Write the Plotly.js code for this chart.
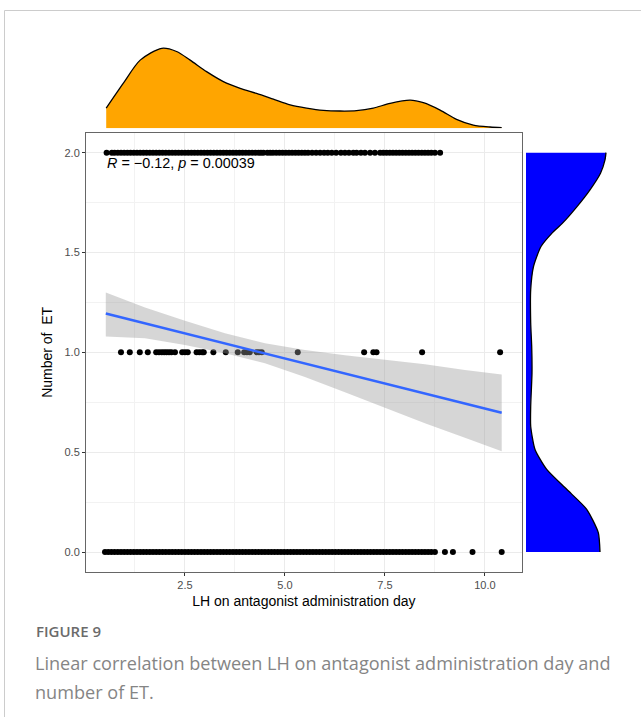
<!DOCTYPE html>
<html>
<head>
<meta charset="utf-8">
<script src="https://cdn.plot.ly/plotly-3.0.1.min.js"></script>
<style>html,body{margin:0;padding:0;background:#fff;}#chart{width:641px;height:717px;}</style>
</head>
<body>
<div id="chart"></div>
<script>
// LH on antagonist administration day for each Number of ET group
const lhET0 = [0.5,0.58,0.66,0.74,0.82,0.9,0.98,1.06,1.14,1.22,1.3,1.38,1.46,1.54,1.62,1.7,1.78,1.86,1.94,2.02,2.1,2.18,2.26,2.34,2.42,2.5,2.58,2.66,2.74,2.82,2.9,2.98,3.06,3.14,3.22,3.3,3.38,3.46,3.54,3.62,3.7,3.78,3.86,3.94,4.02,4.1,4.18,4.26,4.34,4.42,4.5,4.58,4.66,4.74,4.82,4.9,4.98,5.06,5.14,5.22,5.3,5.38,5.46,5.54,5.62,5.7,5.78,5.86,5.94,6.02,6.1,6.18,6.26,6.34,6.42,6.5,6.58,6.66,6.74,6.82,6.9,6.98,7.06,7.14,7.22,7.3,7.38,7.46,7.54,7.62,7.7,7.78,7.86,7.94,8.02,8.1,8.18,8.26,8.34,8.42,8.5,8.58,8.66,8.75,9.0,9.2,9.69,10.42];
const lhET1 = [0.9,1.12,1.37,1.57,1.78,1.85,1.92,1.98,2.04,2.1,2.16,2.25,2.43,2.5,2.57,2.79,2.86,2.93,2.97,3.21,3.52,3.82,3.98,4.05,4.12,4.29,4.35,4.42,5.32,6.98,7.21,7.29,8.43,10.38];
const lhET2 = [0.54,0.67,0.74,0.82,0.9,0.98,1.06,1.14,1.22,1.3,1.38,1.46,1.54,1.62,1.7,1.78,1.86,1.94,2.02,2.1,2.18,2.26,2.34,2.42,2.5,2.58,2.66,2.74,2.82,2.9,2.98,3.06,3.14,3.22,3.3,3.38,3.46,3.54,3.62,3.7,3.78,3.86,3.94,4.02,4.1,4.18,4.26,4.34,4.4,4.46,4.56,4.63,4.7,4.78,4.86,4.94,5.02,5.1,5.18,5.26,5.34,5.42,5.5,5.58,5.68,5.78,5.88,5.98,6.07,6.17,6.28,6.4,6.5,6.6,6.71,6.79,6.9,7.0,7.13,7.25,7.38,7.46,7.54,7.62,7.7,7.78,7.86,7.94,8.02,8.1,8.18,8.26,8.34,8.42,8.5,8.58,8.66,8.75,8.88];
const etValues = [0, 1, 2];

// linear fit with 95% confidence band
const fitX = [0.52,1.5,2.5,3.5,4.5,5.5,6.5,7.5,8.5,9.5,10.42];
const fitY = [1.194,1.145,1.095,1.044,0.994,0.944,0.894,0.844,0.793,0.743,0.697];
const fitLo = [1.08,1.07,1.037,0.995,0.945,0.877,0.80,0.722,0.645,0.572,0.505];
const fitHi = [1.30,1.225,1.158,1.096,1.045,1.012,0.985,0.963,0.940,0.912,0.889];

// marginal density of LH (top)
const densLH_x = [0.53,0.96,1.38,1.92,2.29,2.63,3.04,3.46,3.88,4.29,4.71,5.13,5.54,5.96,6.38,6.79,7.21,7.63,8.13,8.46,8.88,9.29,9.71,10.13,10.42];
const densLH_y = [0.063,0.141,0.213,0.25,0.24,0.213,0.177,0.146,0.125,0.109,0.091,0.073,0.063,0.056,0.054,0.055,0.063,0.078,0.088,0.080,0.057,0.028,0.010,0.004,0.002];

// marginal density of Number of ET (right)
const densET_y = [2.0,1.964,1.897,1.814,1.73,1.647,1.597,1.53,1.43,1.314,1.147,1.03,0.897,0.73,0.63,0.514,0.414,0.314,0.214,0.097,0.0];
const densET_x = [0.80,0.79,0.745,0.64,0.51,0.365,0.26,0.15,0.075,0.047,0.047,0.057,0.06,0.047,0.047,0.09,0.207,0.407,0.607,0.723,0.74];

const corrText = '<i>R</i> = \u22120.12, <i>p</i> = 0.00039';
const xTitle = 'LH on antagonist administration day';
const yTitle = 'Number of\u00A0\u00A0ET';
const figLabel = 'FIGURE 9';
const captionLines = ['Linear correlation between LH on antagonist administration day and', 'number of ET.'];

const W = 641, H = 717;
const px = v => v / W;
const py = v => 1 - v / H;

const ptX = [].concat(lhET0, lhET1, lhET2);
const ptY = [].concat(lhET0.map(() => etValues[0]), lhET1.map(() => etValues[1]), lhET2.map(() => etValues[2]));

const traces = [
  {x: ptX, y: ptY, type: 'scatter', mode: 'markers', xaxis: 'x', yaxis: 'y',
   marker: {color: '#000000', size: 6}, hoverinfo: 'skip'},
  {x: fitX, y: fitLo, type: 'scatter', mode: 'lines', xaxis: 'x', yaxis: 'y',
   line: {width: 0, color: 'rgba(0,0,0,0)'}, hoverinfo: 'skip'},
  {x: fitX, y: fitHi, type: 'scatter', mode: 'lines', xaxis: 'x', yaxis: 'y', fill: 'tonexty',
   fillcolor: 'rgba(153,153,153,0.4)', line: {width: 0, color: 'rgba(0,0,0,0)'}, hoverinfo: 'skip'},
  {x: fitX, y: fitY, type: 'scatter', mode: 'lines', xaxis: 'x', yaxis: 'y',
   line: {color: '#3366FF', width: 2.6}, hoverinfo: 'skip'},
  {x: densLH_x, y: densLH_y, type: 'scatter', mode: 'lines', xaxis: 'x2', yaxis: 'y2', fill: 'tozeroy',
   fillcolor: '#FFA500', line: {color: '#000000', width: 1.3, shape: 'spline', smoothing: 0.8}, hoverinfo: 'skip'},
  {x: densET_x, y: densET_y, type: 'scatter', mode: 'lines', xaxis: 'x3', yaxis: 'y3', fill: 'tozerox',
   fillcolor: '#0000FF', line: {color: '#000000', width: 1.3, shape: 'spline', smoothing: 0.6}, hoverinfo: 'skip'}
];

const gridC = '#ebebeb';
const layout = {
  width: W, height: H,
  margin: {l: 0, r: 0, t: 0, b: 0},
  paper_bgcolor: '#ffffff', plot_bgcolor: 'rgba(0,0,0,0)',
  showlegend: false,
  font: {family: 'Liberation Sans, Arial, sans-serif', color: '#000'},
  xaxis: {
    domain: [px(86), px(521.7)], range: [0.025, 10.92], anchor: 'y', automargin: false,
    tick0: 0, dtick: 2.5, tickformat: '.1f', ticks: 'outside', ticklen: 3, tickcolor: '#333', tickwidth: 1,
    tickfont: {size: 11, color: '#4d4d4d'},
    showline: true, mirror: true, linecolor: '#666', linewidth: 1,
    showgrid: true, gridcolor: gridC, gridwidth: 1, zeroline: false,
    minor: {dtick: 1.25, tick0: 0, showgrid: true, gridcolor: '#f2f2f2', gridwidth: 1, ticks: ''},
    title: {text: xTitle, font: {size: 14, color: '#000'}, standoff: 5}
  },
  yaxis: {
    domain: [py(572), py(132.7)], range: [-0.1, 2.1], anchor: 'x', automargin: false,
    tick0: 0, dtick: 0.5, tickformat: '.1f', ticks: 'outside', ticklen: 3, tickcolor: '#333', tickwidth: 1,
    tickfont: {size: 11, color: '#4d4d4d'},
    showline: true, mirror: true, linecolor: '#666', linewidth: 1,
    showgrid: true, gridcolor: gridC, gridwidth: 1, zeroline: false,
    minor: {dtick: 0.25, tick0: 0, showgrid: true, gridcolor: '#f2f2f2', gridwidth: 1, ticks: ''},
    title: {text: yTitle, font: {size: 14, color: '#000'}, standoff: 8}
  },
  xaxis2: {domain: [px(86), px(521.7)], range: [0.025, 10.92], anchor: 'y2', visible: false},
  yaxis2: {domain: [py(128.3), py(43.3)], range: [0, 0.2656], anchor: 'x2', visible: false},
  xaxis3: {domain: [px(526), px(611)], range: [0, 0.85], anchor: 'y3', visible: false},
  yaxis3: {domain: [py(572), py(132.7)], range: [-0.1, 2.1], anchor: 'x3', visible: false},
  shapes: [
    {type: 'line', xref: 'paper', yref: 'paper', x0: px(4.5), x1: px(4.5), y0: 0, y1: py(10.5), line: {color: '#cccccc', width: 1}},
    {type: 'line', xref: 'paper', yref: 'paper', x0: px(4.5), x1: 1, y0: py(10.5), y1: py(10.5), line: {color: '#cccccc', width: 1}}
  ],
  annotations: [
    {text: corrText, xref: 'x', yref: 'y', x: 0.5, y: 1.947, xanchor: 'left', yanchor: 'middle', showarrow: false,
     font: {size: 14.4, color: '#000'}},
    {text: figLabel, xref: 'paper', yref: 'paper', x: px(34), y: py(631), xanchor: 'left', yanchor: 'middle', showarrow: false,
     font: {family: 'Open Sans, sans-serif', size: 15, color: '#6b6b6b', weight: 600}},
    {text: captionLines[0], xref: 'paper', yref: 'paper', x: px(33), y: py(663), xanchor: 'left', yanchor: 'middle', showarrow: false,
     font: {family: 'Open Sans, sans-serif', size: 18.1, color: '#858585'}},
    {text: captionLines[1], xref: 'paper', yref: 'paper', x: px(33), y: py(692), xanchor: 'left', yanchor: 'middle', showarrow: false,
     font: {family: 'Open Sans, sans-serif', size: 18.1, color: '#858585'}}
  ]
};

Plotly.newPlot('chart', traces, layout, {staticPlot: true, displayModeBar: false});
</script>
</body>
</html>
